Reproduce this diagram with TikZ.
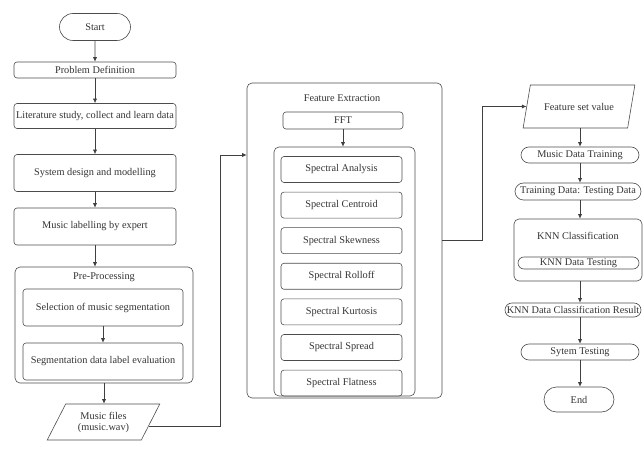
\documentclass[tikz,border=0pt]{standalone}
\usepackage{fontspec}
\setmainfont{Liberation Serif}
\usetikzlibrary{arrows.meta, positioning, shapes.misc, shapes.geometric, calc}
\tikzset{
    box/.style={draw=black!70, semithick, rounded corners=3pt, align=center, inner sep=1pt, text=black!80},
    term/.style={draw=black!70, semithick, rounded rectangle, inner sep=1pt, text=black!80},
    group/.style={draw=black!70, semithick, rounded corners=5pt, inner sep=0pt},
    io/.style={draw=black!70, semithick, trapezium, trapezium left angle=60, trapezium right angle=120,
        trapezium stretches=true, align=center, inner sep=1pt, text=black!80},
    title/.style={inner sep=0pt, text=black!80},
    flow/.style={-{Latex[length=4.5pt,width=4pt]}, draw=black!75, semithick}
}
\begin{document}
\begin{tikzpicture}[x=1pt, y=-1pt, font=\fontsize{10.3}{11}\selectfont]
    \useasboundingbox (0,0) rectangle (643,449);
    % left column
    \node[term, minimum width=73pt, minimum height=27pt] (start) at (95,27) {Start};
    \node[box, minimum width=162pt, minimum height=16pt] (probdef) at (95,70) {Problem Definition};
    \node[box, minimum width=162pt, minimum height=25pt] (litstudy) at (95,116) {Literature study, collect and learn data};
    \node[box, minimum width=162pt, minimum height=37pt] (sysdesign) at (95,173) {System design and modelling};
    \node[box, minimum width=162pt, minimum height=37pt] (labelling) at (95,226.5) {Music labelling by expert};
    \node[group, minimum width=178pt, minimum height=116pt] (prep) at (104,325) {};
    \node[title] (preptitle) at (104,277) {Pre-Processing};
    \node[box, minimum width=160pt, minimum height=37pt] (selseg) at (103,307.5) {Selection of music segmentation};
    \node[box, minimum width=160pt, minimum height=37pt] (segeval) at (103,361.5) {Segmentation data label evaluation};
    \node[io, minimum width=113pt, minimum height=36pt] (mfile) at (103.5,422) {Music files\\(music.wav)};
    \draw[flow] (start) -- (probdef);
    \draw[flow] (probdef) -- (litstudy);
    \draw[flow] (litstudy) -- (sysdesign);
    \draw[flow] (sysdesign) -- (labelling);
    \draw[flow] (labelling.south) -- (labelling.south |- prep.north);
    \draw[flow] (selseg) -- (segeval);
    \draw[flow] (prep.south) -- (prep.south |- mfile.north);
    % feature extraction
    \node[group, minimum width=195pt, minimum height=315pt] (fe) at (344.5,240.5) {};
    \node[title] (fetitle) at (342,98) {Feature Extraction};
    \node[box, minimum width=120pt, minimum height=17pt] (fft) at (343,120.5) {FFT};
    \node[group, minimum width=141pt, minimum height=249pt] (spec) at (344.5,271.5) {};
    \foreach \name [count=\k from 0] in {Analysis, Centroid, Skewness, Rolloff, Kurtosis, Spread, Flatness}
        \node[box, minimum width=121pt, minimum height=26pt] (s\k) at (341.5,{169.5+35.6*\k}) {Spectral \name};
    \draw[flow] (fft.south) -- (fft.south |- spec.north);
    \coordinate (m1) at ($(mfile.east)+(-2,4)$);
    \coordinate (j1) at (220,155);
    \draw[flow] (m1) -- (m1 -| j1) -- (j1) -- (j1 -| fe.west);
    % right column
    \node[io, minimum width=112pt, minimum height=43pt] (fset) at (579,106.5) {Feature set value};
    \node[term, minimum width=120pt, minimum height=16pt] (train) at (580,155) {Music Data Training};
    \node[term, minimum width=128pt, minimum height=17pt] (split) at (578,191.5) {Training Data: Testing Data};
    \node[group, minimum width=128pt, minimum height=62pt] (knn) at (578,250) {};
    \node[title] (knntitle) at (578,236) {KNN Classification};
    \node[term, minimum width=123pt, minimum height=12pt] (knntest) at (578.5,263) {KNN Data Testing};
    \node[term, minimum width=138pt, minimum height=14pt] (result) at (573,310) {KNN Data Classification Result};
    \node[term, minimum width=120pt, minimum height=16pt] (systest) at (580,352) {Sytem Testing};
    \node[term, minimum width=72pt, minimum height=25pt] (end) at (579,399.5) {End};
    \draw[flow] (fe.east) -- ++(40,0) |- (fset.west);
    \draw[flow] (fset.south -| train) -- (train.north);
    \draw[flow] (train.south) -- (train.south |- split.north);
    \draw[flow] (train.south |- split.south) -- (train.south |- knn.north);
    \draw[flow] (train.south |- knn.south) -- (train.south |- result.north);
    \draw[flow] (train.south |- result.south) -- (systest.north);
    \draw[flow] (systest.south) -- (systest.south |- end.north);
\end{tikzpicture}
\end{document}
